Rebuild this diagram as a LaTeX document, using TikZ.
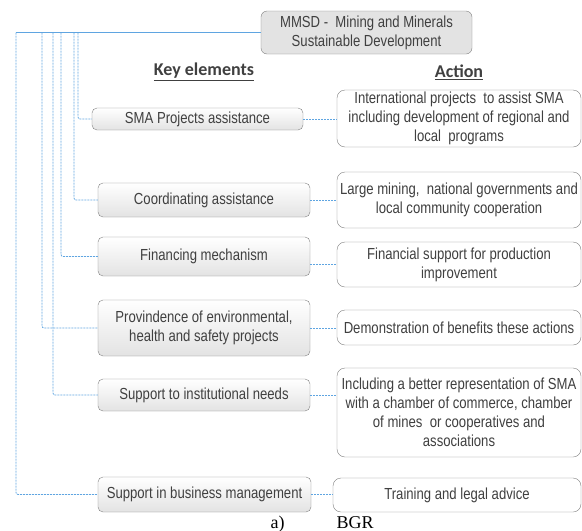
\documentclass[tikz,border=0pt]{standalone}
\usepackage{fontspec}
\setmainfont{Liberation Sans}[FakeStretch=0.82]
\newfontfamily\headfont{Carlito}
\newfontfamily\capfont{Liberation Serif}
\definecolor{linkblue}{RGB}{95,165,225}
\definecolor{boxline}{RGB}{128,128,128}
\definecolor{txtgray}{RGB}{64,64,64}
\tikzset{
	mainbox/.style={draw=boxline, fill=gray!22, rounded corners=6pt, align=center, inner sep=0pt, text=txtgray},
	keybox/.style={draw=boxline, top color=white, bottom color=gray!22, rounded corners=5pt, align=center, inner sep=0pt, text=txtgray, minimum width=212pt},
	actbox/.style={draw=boxline, fill=white, rounded corners=8pt, align=center, inner sep=0pt, text=txtgray, minimum width=244pt},
	heading/.style={font=\headfont\bfseries\fontsize{18}{20}\selectfont, text=txtgray},
	link/.style={draw=linkblue, line width=0.8pt, dash pattern=on 2pt off 1pt, rounded corners=2pt},
	trunk/.style={draw=linkblue, line width=0.8pt}
}
\begin{document}
\begin{tikzpicture}[x=1pt, y=-1pt, font=\fontsize{16}{19}\selectfont]
	\useasboundingbox (0,0) rectangle (582,531);
	\node (top) at (366.5,32.5) [mainbox, minimum width=211pt, minimum height=43pt] {MMSD -\ \ Mining and Minerals\\Sustainable Development};
	\node (hkey) at (204,72) [heading] {\underline{Key elements}};
	\node (hact) at (459,72) [heading] {\underline{Action}};
	\node (sma) at (197.5,119) [keybox, minimum width=211pt, minimum height=22pt] {SMA Projects assistance};
	\node (coord) at (204,200) [keybox, minimum height=34pt] {Coordinating assistance};
	\node (fin) at (204,256.5) [keybox, minimum height=39pt] {Financing mechanism};
	\node (prov) at (204,328) [keybox, minimum height=56pt] {Provindence of environmental,\\health and safety projects};
	\node (inst) at (204,395) [keybox, minimum height=32pt] {Support to institutional needs};
	\node (bus) at (204.5,494.5) [keybox, minimum width=213pt, minimum height=35pt] {Support in business management};
	\node (asma) at (459,118.5) [actbox, minimum height=57pt] {International projects\ \ to assist SMA\\including development of regional and\\local\ \ programs};
	\node (acoord) at (459,200) [actbox, minimum height=56pt] {Large mining,\ \ national governments and\\local community cooperation};
	\node (afin) at (459,264.5) [actbox, minimum height=45pt] {Financial support for production\\improvement};
	\node (aprov) at (459,327.5) [actbox, minimum height=35pt] {Demonstration of benefits these actions};
	\node (ainst) at (459,412.5) [actbox, minimum height=89pt] {Including a better representation of SMA\\with a chamber of commerce, chamber\\of mines\ \ or cooperatives and\\associations};
	\node (abus) at (457,495) [actbox, minimum width=248pt, minimum height=34pt] {Training and legal advice};
	\node (cap) at (267,528) [anchor=base west, font=\capfont\fontsize{18}{20}\selectfont] {a)\hspace{52pt}BGR};
	\coordinate (bsma) at (78,0);
	\coordinate (bcoord) at (74,0);
	\coordinate (bfin) at (61,0);
	\coordinate (binst) at (53,0);
	\coordinate (bprov) at (42,0);
	\coordinate (bbus) at (16,0);
	\draw[trunk] (top.west) -- (top.west -| bbus);
	\draw[link] (top.west -| bsma) |- (sma.west);
	\draw[link] (top.west -| bcoord) |- (coord.west);
	\draw[link] (top.west -| bfin) |- (fin.west);
	\draw[link] (top.west -| binst) |- (inst.west);
	\draw[link] (top.west -| bprov) |- (prov.west);
	\draw[link] (top.west -| bbus) |- (bus.west);
	\draw[link] (sma.east) -- (sma.east -| asma.west);
	\draw[link] (coord.east) -- (coord.east -| acoord.west);
	\draw[link] (afin.west -| fin.east) -- (afin.west);
	\draw[link] (prov.east) -- (prov.east -| aprov.west);
	\draw[link] (inst.east) -- (inst.east -| ainst.west);
	\draw[link] (bus.east) -- (bus.east -| abus.west);
\end{tikzpicture}
\end{document}
